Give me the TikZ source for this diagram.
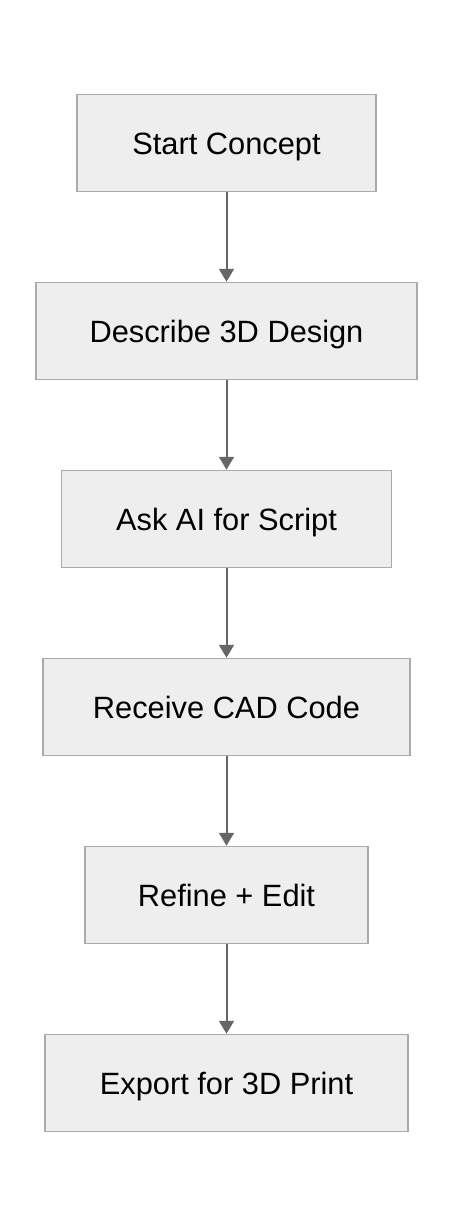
\documentclass[tikz,border=0pt]{standalone}
\usepackage{fontspec}
\setmainfont{Liberation Sans}
\usetikzlibrary{arrows.meta}
\definecolor{boxfill}{HTML}{EEEEEE}
\definecolor{boxline}{HTML}{AAAAAA}
\definecolor{arrowcol}{HTML}{666666}
\begin{document}
\begin{tikzpicture}[x=1pt,y=-1pt,
  stepbox/.style={draw=boxline, fill=boxfill, line width=1.5pt, inner sep=0pt,
    minimum height=97pt, text height=22pt, text depth=0pt,
    font=\fontsize{30.8}{36}\selectfont, text=black},
  flow/.style={draw=arrowcol, line width=2pt, -{Triangle[length=13pt,width=15pt]}}
]
\useasboundingbox (0,0) rectangle (454,1228);
\node[stepbox, minimum width=299pt] (s1) at (226.5,143) {Start Concept};
\node[stepbox, minimum width=381pt] (s2) at (226.5,331) {Describe 3D Design};
\node[stepbox, minimum width=330pt] (s3) at (226.5,519) {Ask AI for Script};
\node[stepbox, minimum width=367pt] (s4) at (226.5,707) {Receive CAD Code};
\node[stepbox, minimum width=283pt] (s5) at (226.5,895) {Refine + Edit};
\node[stepbox, minimum width=363pt] (s6) at (226.5,1083) {Export for 3D Print};
\draw[flow] (s1) -- (s2);
\draw[flow] (s2) -- (s3);
\draw[flow] (s3) -- (s4);
\draw[flow] (s4) -- (s5);
\draw[flow] (s5) -- (s6);
\end{tikzpicture}
\end{document}
